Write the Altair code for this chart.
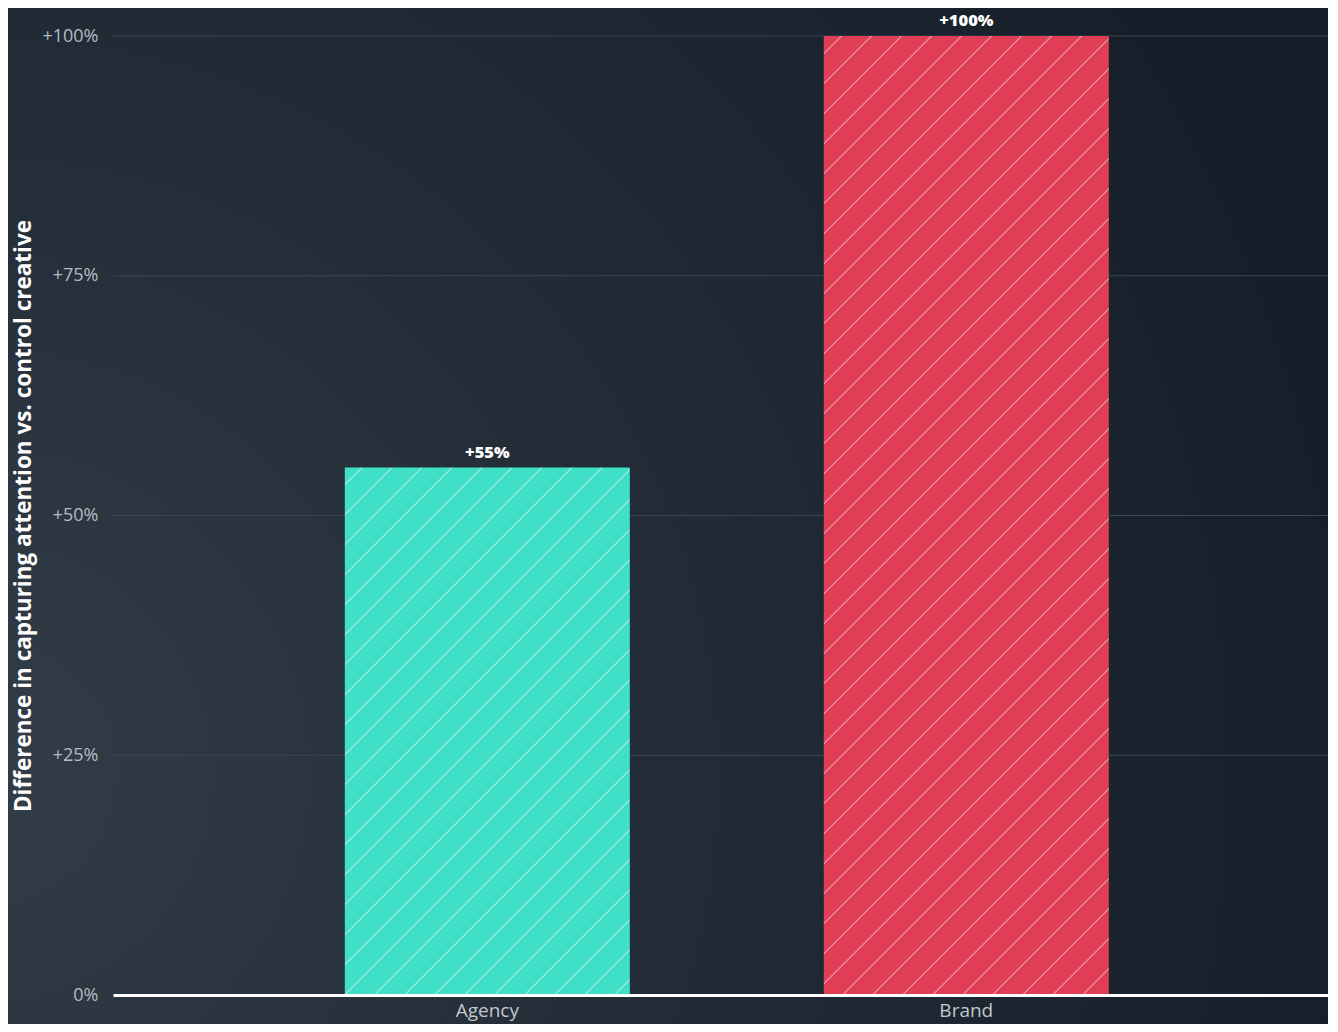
import altair as alt
import pandas as pd

# ---- data ----
categories = ["Agency", "Brand"]
values = [55, 100]
y_ticks = [0, 25, 50, 75, 100]
y_title = "Difference in capturing attention vs. control creative"

# ---- style ----
bar_colors = ["#40e0c8", "#e03e57"]
stripe_colors = ["#8fe9dc", "#eb8594"]
W, H = 1215, 959
PI, PO, ALIGN = 0.405, 0.4708, 0.514
FONT = "Open Sans"

step = W / (len(categories) - PI + 2 * PO)
bw = step * (1 - PI)


def stripes(w, h, base, line, period=30.0, lw=1.8):
    tot = w + h
    d = w * w + h * h
    x2 = w * tot / d
    y2 = h * tot / d
    stops = [alt.GradientStop(offset=0, color=base)]
    p = period * 0.55
    while p + lw < tot:
        a = round(p / tot, 5)
        b = round((p + lw) / tot, 5)
        stops += [
            alt.GradientStop(offset=a, color=base),
            alt.GradientStop(offset=a, color=line),
            alt.GradientStop(offset=b, color=line),
            alt.GradientStop(offset=b, color=base),
        ]
        p += period
    stops.append(alt.GradientStop(offset=1, color=base))
    return alt.LinearGradient(gradient="linear", x1=0, y1=0, x2=round(x2, 5), y2=round(y2, 5), stops=stops)


df = pd.DataFrame({"cat": categories, "val": values})
ticks_df = pd.DataFrame({"val": y_ticks})

yscale = alt.Scale(domain=[0, 100], nice=False)
yaxis = alt.Axis(
    values=y_ticks, title=y_title, titleFont=FONT, titleFontSize=22.5,
    titleFontWeight="bold", titleColor="#ffffff", titleX=-90, titleY=H / 2,
    titleAngle=-90, titleBaseline="middle", titleAlign="center",
    labelExpr="datum.value == 0 ? '0%' : '+' + datum.value + '%'",
    labelColor="#b4bcc3", labelFont=FONT, labelFontSize=18,
    labelFontWeight="normal", labelPadding=15,
    ticks=False, domain=False, grid=False, zindex=1,
)
yenc = alt.Y("val:Q", scale=yscale, axis=yaxis)

bg = alt.Chart(pd.DataFrame({"k": [0]})).mark_rect(
    fill=alt.RadialGradient(
        gradient="radial", x1=0.0, y1=0.68, r1=0, x2=0.0, y2=0.68, r2=1.05,
        stops=[
            alt.GradientStop(offset=0, color="#323d48"),
            alt.GradientStop(offset=0.45, color="#232d38"),
            alt.GradientStop(offset=1, color="#151e28"),
        ],
    )
).encode(
    x=alt.value(-130), x2=alt.value(W + 30), y=alt.value(-40), y2=alt.value(H + 60)
)

grid = alt.Chart(ticks_df).mark_rule(color="#3a4551", strokeWidth=1).encode(y=yenc)

xenc = alt.X(
    "cat:N",
    sort=categories,
    scale=alt.Scale(domain=categories, paddingInner=PI, paddingOuter=PO, align=ALIGN),
    axis=alt.Axis(
        title=None, labelAngle=0, ticks=False, domain=True, domainColor="#ffffff",
        domainWidth=3, labelColor="#c3c8cd", labelFont=FONT, labelFontSize=19,
        labelPadding=6, labelBaseline="top", grid=False, zindex=1,
    ),
)

base = alt.Chart(df)
layers = [bg, grid]
for i, c in enumerate(categories):
    h = H * values[i] / 100.0
    layers.append(
        base.transform_filter(alt.datum.cat == c)
        .mark_bar(fill=stripes(bw, h, bar_colors[i], stripe_colors[i]))
        .encode(x=xenc, y=yenc)
    )

labels = base.transform_calculate(
    lab="'+' + datum.val + '%'"
).mark_text(
    dy=-7, font=FONT, fontSize=16.5, fontWeight=800, color="#ffffff", baseline="bottom"
).encode(x=alt.X("cat:N", sort=categories), y=yenc, text="lab:N")
layers.append(labels)

chart = alt.layer(*layers).properties(
    width=W, height=H,
    autosize=alt.AutoSizeParams(type="none"),
    padding={"left": 105, "top": 28, "right": 0, "bottom": 29},
    background="#1c2631",
).configure_view(stroke=None)

chart.save("out.html", embed_options={"renderer": "svg", "actions": False})
